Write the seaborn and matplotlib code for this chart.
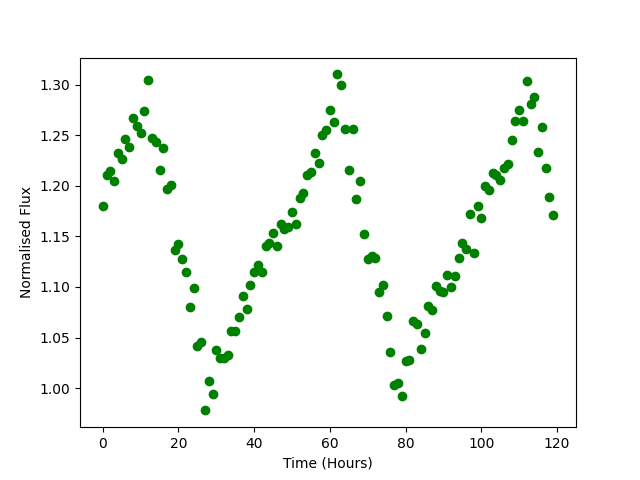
import numpy as np
import seaborn as sns
import matplotlib
matplotlib.use("Agg")
import matplotlib.pyplot as plt

# hourly flux readings
hours = list(range(120))
flux = [
    1.180, 1.211, 1.215, 1.205, 1.232, 1.226, 1.246, 1.238, 1.267, 1.259,
    1.252, 1.274, 1.304, 1.247, 1.243, 1.216, 1.237, 1.197, 1.201, 1.136,
    1.142, 1.128, 1.115, 1.080, 1.099, 1.042, 1.046, 0.978, 1.007, 0.994,
    1.038, 1.030, 1.030, 1.033, 1.056, 1.056, 1.070, 1.091, 1.078, 1.102,
    1.115, 1.122, 1.115, 1.140, 1.143, 1.153, 1.140, 1.162, 1.157, 1.159,
    1.174, 1.162, 1.188, 1.193, 1.211, 1.214, 1.232, 1.222, 1.250, 1.255,
    1.275, 1.263, 1.310, 1.300, 1.256, 1.216, 1.256, 1.187, 1.205, 1.152,
    1.128, 1.131, 1.129, 1.095, 1.102, 1.071, 1.036, 1.003, 1.005, 0.992,
    1.027, 1.028, 1.066, 1.063, 1.039, 1.054, 1.081, 1.077, 1.101, 1.096,
    1.095, 1.112, 1.100, 1.111, 1.129, 1.143, 1.137, 1.172, 1.134, 1.180,
    1.168, 1.200, 1.196, 1.213, 1.211, 1.206, 1.218, 1.221, 1.245, 1.264,
    1.275, 1.264, 1.303, 1.281, 1.288, 1.233, 1.258, 1.218, 1.189, 1.171,
]

fig, ax = plt.subplots(figsize=(6.4, 4.8), dpi=100)
sns.scatterplot(x=hours, y=flux, color="green", s=36,
                edgecolor="green", linewidth=1, ax=ax)
ax.set_xlabel("Time (Hours)")
ax.set_ylabel("Normalised Flux")
ax.set_xlim(-6, 125)
ax.set_yticks(np.arange(1.00, 1.31, 0.05))
plt.savefig("out.png")
